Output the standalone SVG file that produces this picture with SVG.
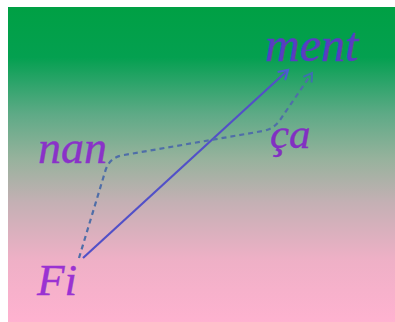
<svg xmlns="http://www.w3.org/2000/svg" width="395" height="322" viewBox="0 0 395 322">
<style>
.lbl{font-family:"Liberation Serif","Times New Roman",serif;font-style:italic;stroke-width:0.4}
.solid{fill:none;stroke:#5250c8;stroke-width:2.2}
.dash{fill:none;stroke:#4f6ea8;stroke-width:2.2;stroke-dasharray:5,4}
</style>
<defs>
<linearGradient id="bg" x1="0" y1="0" x2="0" y2="1">
<stop offset="0" stop-color="#00a044"/>
<stop offset="0.16" stop-color="#04a050"/>
<stop offset="0.24" stop-color="#2ca46a"/>
<stop offset="0.34" stop-color="#5eaa86"/>
<stop offset="0.48" stop-color="#96b29c"/>
<stop offset="0.62" stop-color="#c4b0b4"/>
<stop offset="0.8" stop-color="#eeb0c6"/>
<stop offset="1" stop-color="#ffb2d0"/>
</linearGradient>
<marker id="ahS" markerWidth="13" markerHeight="13" refX="10" refY="6.5" orient="auto" markerUnits="userSpaceOnUse">
<path d="M1,1 L10,6.5 L1,12" fill="none" stroke="#4a5ed0" stroke-width="2.2"/>
</marker>
<marker id="ahD" markerWidth="12" markerHeight="12" refX="9" refY="6" orient="auto" markerUnits="userSpaceOnUse">
<path d="M1,1 L9,6 L1,11" fill="none" stroke="#3f6fb0" stroke-width="2"/>
</marker>
</defs>
<rect x="0" y="0" width="395" height="322" fill="#ffffff"/>
<rect x="8" y="7" width="387" height="315" fill="url(#bg)"/>
<g id="connectors">
<path class="solid" d="M83,258 L288,70" marker-end="url(#ahS)"/>
<path class="dash" d="M79,258 L105,172 Q109,157 124,155 L263,131 Q274,129 280,120 L312,73" marker-end="url(#ahD)"/>
</g>
<g id="node-ment"><text class="lbl" x="265" y="61" font-size="48" fill="#5a3cc2" stroke="#5a3cc2">ment</text></g>
<g id="node-nan"><text class="lbl" x="38" y="163" font-size="46" fill="#8a32c8" stroke="#8a32c8">nan</text></g>
<g id="node-ca"><text class="lbl" x="270" y="148" font-size="43" fill="#8230c2" stroke="#8230c2">ça</text></g>
<g id="node-fi"><text class="lbl" x="37" y="295" font-size="45" fill="#9a32d2" stroke="#9a32d2">Fi</text></g>
</svg>
